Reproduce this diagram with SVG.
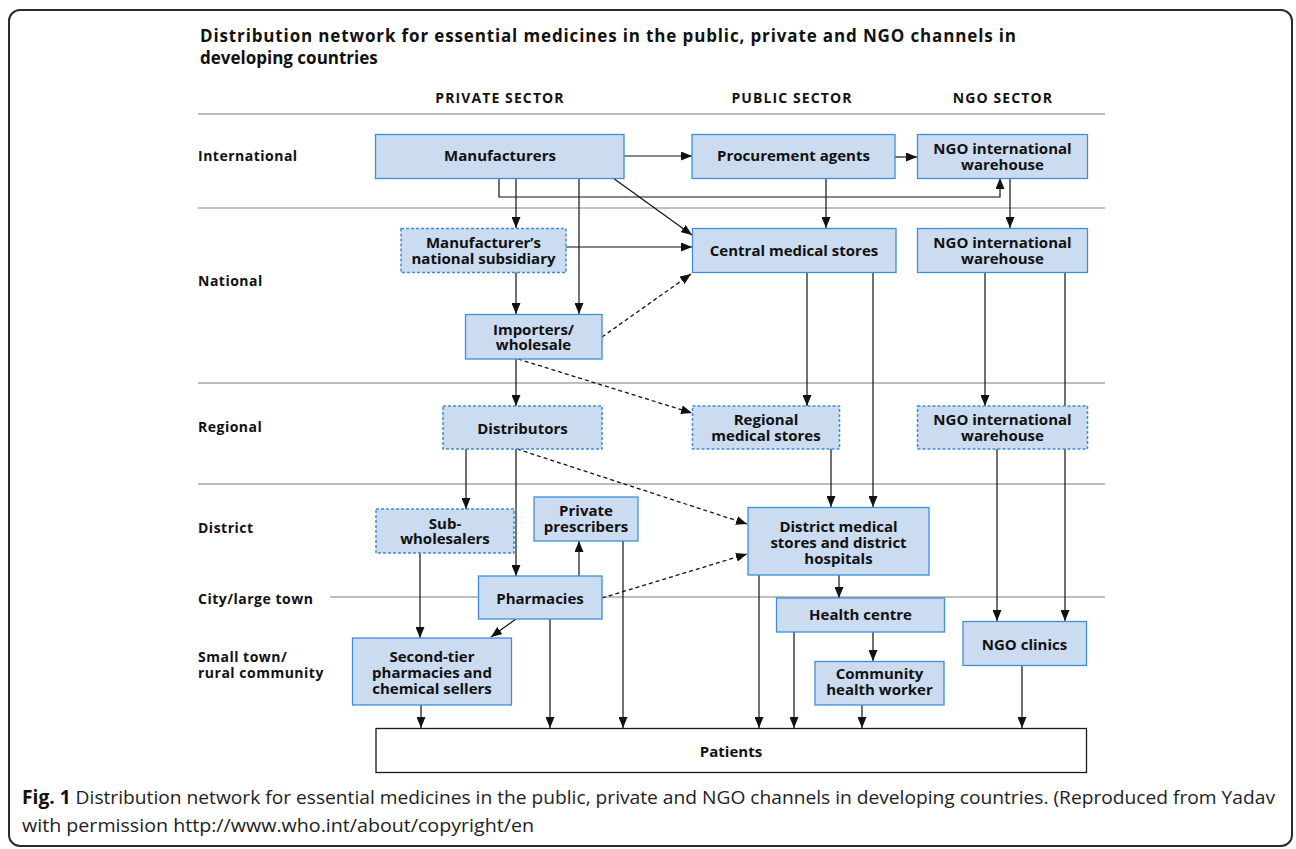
<svg xmlns="http://www.w3.org/2000/svg" width="1296" height="849" viewBox="0 0 1296 849">
<style>
  .frame{fill:#fff;stroke:#2b2b2b;stroke-width:2}
  .rule{stroke:#a8a8a8;stroke-width:1.5;fill:none}
  .node{fill:#cbdbf0;stroke:#3d8fd9;stroke-width:1.3}
  .dash{fill:#cbdbf0;stroke:#3d8fd9;stroke-width:1.5;stroke-dasharray:3,2}
  .pat{fill:#fff;stroke:#1a1a1a;stroke-width:1.3}
  .t{font-family:"Open Sans","Noto Sans",sans-serif;font-weight:bold;font-size:15px;fill:#111;text-anchor:middle}
  .row{font-family:"Open Sans","Noto Sans",sans-serif;font-weight:bold;font-size:14px;fill:#111;letter-spacing:0.5px}
  .hdr{font-family:"Open Sans","Noto Sans",sans-serif;font-weight:bold;font-size:14px;fill:#111;letter-spacing:1.1px;text-anchor:middle}
  .title{font-family:"Open Sans","Noto Sans",sans-serif;font-weight:bold;font-size:17px;fill:#111}
  .cap{font-family:"Open Sans","Noto Sans",sans-serif;font-size:19px;fill:#222}
  .c{stroke:#111;stroke-width:1.2;fill:none;marker-end:url(#ah)}
  .cn{stroke:#111;stroke-width:1.2;fill:none}
  .d{stroke:#111;stroke-width:1.3;fill:none;stroke-dasharray:4,3;marker-end:url(#ah)}
</style>
<defs>
  <marker id="ah" markerUnits="userSpaceOnUse" markerWidth="11" markerHeight="9" refX="11" refY="4.5" orient="auto">
    <path d="M0,0 L11,4.5 L0,9 z" fill="#111"/>
  </marker>
</defs>
<rect class="frame" x="9" y="10" width="1283" height="836" rx="11"/>
<text class="title" x="200" y="42" textLength="816" lengthAdjust="spacing">Distribution network for essential medicines in the public, private and NGO channels in</text>
<text class="title" x="200" y="64">developing countries</text>
<g id="headers">
  <text class="hdr" x="500" y="103">PRIVATE SECTOR</text>
  <text class="hdr" x="792" y="103">PUBLIC SECTOR</text>
  <text class="hdr" x="1003" y="103">NGO SECTOR</text>
</g>
<g id="rules">
  <line class="rule" x1="198" y1="114" x2="1105" y2="114"/>
  <line class="rule" x1="198" y1="208" x2="1105" y2="208"/>
  <line class="rule" x1="198" y1="383" x2="1105" y2="383"/>
  <line class="rule" x1="198" y1="484" x2="1105" y2="484"/>
  <line class="rule" x1="330" y1="597" x2="1105" y2="597"/>
</g>
<g id="row-labels">
  <text class="row" x="198" y="161">International</text>
  <text class="row" x="198" y="286">National</text>
  <text class="row" x="198" y="432">Regional</text>
  <text class="row" x="198" y="533">District</text>
  <text class="row" x="198" y="604">City/large town</text>
  <text class="row" x="198" y="662">Small town/</text>
  <text class="row" x="198" y="678">rural community</text>
</g>
<g id="connectors">
  <line class="c" x1="624" y1="156" x2="692" y2="156"/>
  <line class="c" x1="895" y1="157" x2="917" y2="157"/>
  <polyline class="c" points="499,178 499,197 1000,197 1000,178"/>
  <line class="c" x1="516" y1="178" x2="516" y2="228"/>
  <line class="c" x1="579" y1="178" x2="579" y2="314"/>
  <line class="c" x1="613" y1="178" x2="692" y2="235"/>
  <line class="c" x1="566" y1="247" x2="692" y2="247"/>
  <line class="c" x1="826" y1="178" x2="826" y2="228"/>
  <line class="c" x1="1010" y1="178" x2="1010" y2="228"/>
  <line class="c" x1="516" y1="272" x2="516" y2="314"/>
  <line class="d" x1="602" y1="337" x2="691" y2="274"/>
  <line class="c" x1="516" y1="359" x2="516" y2="406"/>
  <line class="d" x1="518" y1="359" x2="692" y2="413"/>
  <line class="c" x1="807" y1="272" x2="807" y2="406"/>
  <line class="c" x1="873" y1="272" x2="873" y2="507"/>
  <line class="c" x1="985" y1="272" x2="985" y2="406"/>
  <line class="c" x1="1065" y1="272" x2="1065" y2="621"/>
  <line class="c" x1="997" y1="449" x2="997" y2="621"/>
  <line class="c" x1="831" y1="449" x2="831" y2="507"/>
  <line class="c" x1="466" y1="449" x2="466" y2="509"/>
  <line class="c" x1="516" y1="449" x2="516" y2="576"/>
  <line class="d" x1="517" y1="449" x2="747" y2="524"/>
  <line class="d" x1="602" y1="598" x2="747" y2="554"/>
  <line class="c" x1="579" y1="576" x2="579" y2="541"/>
  <line class="c" x1="623" y1="541" x2="623" y2="728"/>
  <line class="c" x1="420" y1="553" x2="420" y2="638"/>
  <line class="c" x1="516" y1="619" x2="491" y2="637"/>
  <line class="c" x1="550" y1="619" x2="550" y2="728"/>
  <line class="c" x1="421" y1="705" x2="421" y2="728"/>
  <line class="c" x1="759" y1="575" x2="759" y2="728"/>
  <line class="c" x1="839" y1="575" x2="839" y2="598"/>
  <line class="c" x1="794" y1="632" x2="794" y2="728"/>
  <line class="c" x1="873" y1="632" x2="873" y2="661"/>
  <line class="c" x1="862" y1="705" x2="862" y2="728"/>
  <line class="c" x1="1022" y1="665" x2="1022" y2="728"/>
</g>
<g id="manufacturers"><rect class="node" x="375.5" y="134.5" width="248.5" height="44"/><text class="t" x="500" y="161">Manufacturers</text></g>
<g id="procurement-agents"><rect class="node" x="692" y="134.5" width="203" height="44"/><text class="t" x="793.5" y="161">Procurement agents</text></g>
<g id="ngo-warehouse-1"><rect class="node" x="917.5" y="134.5" width="170" height="44"/><text class="t" x="1002.5" y="153.5">NGO international</text><text class="t" x="1002.5" y="169.5">warehouse</text></g>
<g id="manufacturer-subsidiary"><rect class="dash" x="401" y="228.5" width="165" height="44"/><text class="t" x="483.5" y="247.5">Manufacturer’s</text><text class="t" x="483.5" y="263.5">national subsidiary</text></g>
<g id="central-medical-stores"><rect class="node" x="692.5" y="228.5" width="203.5" height="44"/><text class="t" x="794" y="255.5">Central medical stores</text></g>
<g id="ngo-warehouse-2"><rect class="node" x="917.5" y="228.5" width="170" height="44"/><text class="t" x="1002.5" y="247.5">NGO international</text><text class="t" x="1002.5" y="263.5">warehouse</text></g>
<g id="importers"><rect class="node" x="465.5" y="314.5" width="136.5" height="44.5"/><text class="t" x="533.5" y="334.5">Importers/</text><text class="t" x="533.5" y="350">wholesale</text></g>
<g id="distributors"><rect class="dash" x="443" y="406" width="159" height="43"/><text class="t" x="522.5" y="433.5">Distributors</text></g>
<g id="regional-medical-stores"><rect class="dash" x="692.5" y="406" width="147" height="43"/><text class="t" x="766" y="425">Regional</text><text class="t" x="766" y="441">medical stores</text></g>
<g id="ngo-warehouse-3"><rect class="dash" x="917.5" y="406" width="170" height="43"/><text class="t" x="1002.5" y="425">NGO international</text><text class="t" x="1002.5" y="441">warehouse</text></g>
<g id="sub-wholesalers"><rect class="dash" x="376" y="509" width="138" height="44"/><text class="t" x="445" y="528.5">Sub-</text><text class="t" x="445" y="544">wholesalers</text></g>
<g id="private-prescribers"><rect class="node" x="534" y="497" width="104" height="44"/><text class="t" x="586" y="516">Private</text><text class="t" x="586" y="532">prescribers</text></g>
<g id="district-medical-stores"><rect class="node" x="748" y="507.5" width="181" height="67.5"/><text class="t" x="838.5" y="532">District medical</text><text class="t" x="838.5" y="548">stores and district</text><text class="t" x="838.5" y="564">hospitals</text></g>
<g id="pharmacies"><rect class="node" x="478.5" y="576" width="123.5" height="43"/><text class="t" x="540" y="603.5">Pharmacies</text></g>
<g id="health-centre"><rect class="node" x="776.5" y="598" width="168" height="34"/><text class="t" x="860.5" y="620">Health centre</text></g>
<g id="ngo-clinics"><rect class="node" x="963" y="621.5" width="123.5" height="44"/><text class="t" x="1024.5" y="649.5">NGO clinics</text></g>
<g id="second-tier"><rect class="node" x="352.5" y="638" width="159" height="67"/><text class="t" x="432" y="662">Second-tier</text><text class="t" x="432" y="678">pharmacies and</text><text class="t" x="432" y="694">chemical sellers</text></g>
<g id="community-health-worker"><rect class="node" x="815" y="661.5" width="129" height="43.5"/><text class="t" x="879.5" y="679">Community</text><text class="t" x="879.5" y="695">health worker</text></g>
<g id="patients"><rect class="pat" x="376" y="728.5" width="710.5" height="44"/><text class="t" x="731" y="757">Patients</text></g>
<g id="caption">
  <text class="cap" x="22" y="804" textLength="1253" lengthAdjust="spacingAndGlyphs"><tspan font-weight="bold" fill="#111">Fig. 1</tspan> Distribution network for essential medicines in the public, private and NGO channels in developing countries. (Reproduced from Yadav</text>
  <text class="cap" x="22" y="832" textLength="512" lengthAdjust="spacingAndGlyphs">with permission http://www.who.int/about/copyright/en</text>
</g>
</svg>
